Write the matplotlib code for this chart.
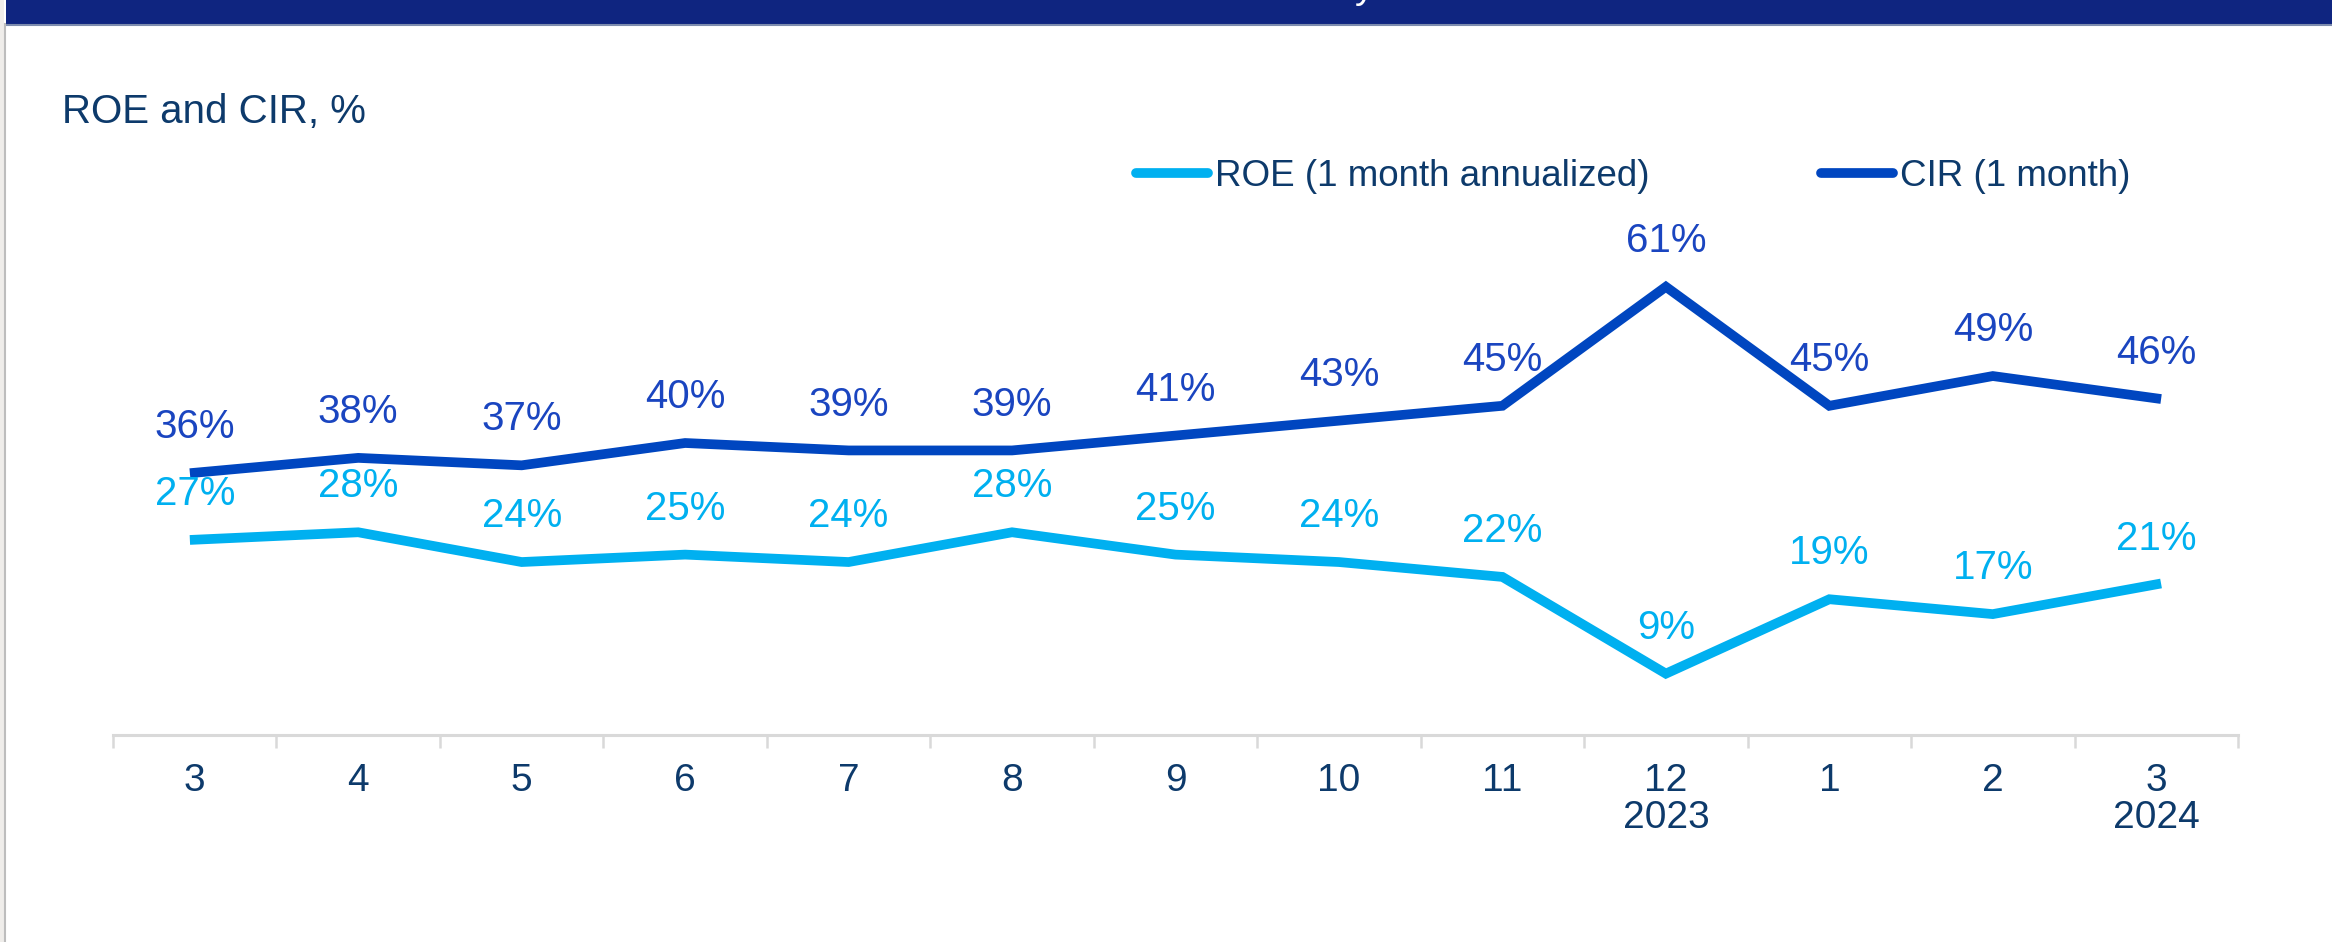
import numpy as np
import matplotlib
matplotlib.use("Agg")
import matplotlib.pyplot as plt
from matplotlib.lines import Line2D
from matplotlib.patches import Rectangle

plt.rcParams['font.family'] = ['Liberation Sans', 'DejaVu Sans']

# data
months = ['3', '4', '5', '6', '7', '8', '9', '10', '11', '12', '1', '2', '3']
years = ['', '', '', '', '', '', '', '', '', '2023', '', '', '2024']
roe = [27, 28, 24, 25, 24, 28, 25, 24, 22, 9, 19, 17, 21]
cir = [36, 38, 37, 40, 39, 39, 41, 43, 45, 61, 45, 49, 46]

roe_color = '#00B0F0'
cir_color = '#0046C0'
cir_label_color = '#1A45C0'
text_color = '#0D3A6B'
grey = '#D9D9D9'

W, H = 2332, 942
fig = plt.figure(figsize=(W / 100, H / 100), dpi=100)

# header band and left frame
fig.add_artist(Rectangle((6 / W, 1 - 24 / H), 1, 24 / H, transform=fig.transFigure,
                         facecolor='#0F2580', edgecolor='none'))
fig.add_artist(Line2D([6 / W, 1], [1 - 25 / H, 1 - 25 / H], transform=fig.transFigure,
                      color='#7D8CAE', lw=1.5))
fig.add_artist(Rectangle((0, 0), 4 / W, 1, transform=fig.transFigure,
                         facecolor='#EFEDEA', edgecolor='none'))
fig.add_artist(Line2D([5 / W, 5 / W], [0, 1 - 24 / H], transform=fig.transFigure,
                      color='#BDBDBD', lw=1.5))
fig.text(1365 / W, 1 + 2 / H, 'y', color='white', fontsize=28, ha='center', va='baseline')

# axes geometry: 7.44 px per percentage point, 0% sits ~6px below the axis line
ax_left, ax_right = 113, 2238
ax_bottom, ax_top = 735, 200
px_per_pt = 7.44
y0 = (740.6 - ax_bottom) / px_per_pt
ax = fig.add_axes([ax_left / W, 1 - ax_bottom / H, (ax_right - ax_left) / W, (ax_bottom - ax_top) / H])
ax.set_ylim(y0, y0 + (ax_bottom - ax_top) / px_per_pt)

x = np.arange(len(months))
ax.set_xlim(-0.5, len(months) - 0.5)

lw = 7
ax.plot(x, roe, color=roe_color, lw=lw, solid_joinstyle='miter', zorder=3)
ax.plot(x, cir, color=cir_color, lw=lw, solid_joinstyle='miter', zorder=3)

for xi, v in zip(x, roe):
    ax.annotate(f'{v}%', (xi, v), xytext=(0, 33), textcoords='offset points',
                ha='center', va='center', fontsize=29, color=roe_color)
for xi, v in zip(x, cir):
    ax.annotate(f'{v}%', (xi, v), xytext=(0, 33), textcoords='offset points',
                ha='center', va='center', fontsize=29, color=cir_label_color)

# axis styling
for s in ['top', 'right', 'left']:
    ax.spines[s].set_visible(False)
ax.spines['bottom'].set_color(grey)
ax.spines['bottom'].set_linewidth(2.2)
ax.set_yticks([])
ax.set_xticks(x)
ax.set_xticklabels([m + ('\n' + yr if yr else '\n') for m, yr in zip(months, years)],
                   fontsize=28, color=text_color, linespacing=1.05)
ax.tick_params(axis='x', which='major', length=0, pad=20)
ax.set_xticks(np.arange(-0.5, len(months)), minor=True)
ax.tick_params(axis='x', which='minor', length=9, width=1.8, color=grey, direction='out')

fig.text(62 / W, 1 - 112 / H, 'ROE and CIR, %', fontsize=29, color=text_color, va='center', ha='left')

handles = [Line2D([], [], color=roe_color, lw=lw, solid_capstyle='round'),
           Line2D([], [], color=cir_color, lw=lw, solid_capstyle='round')]
fig.legend(handles, ['ROE (1 month annualized)', 'CIR (1 month)'], loc='center left',
           bbox_to_anchor=(1136 / W, 1 - 176 / H), bbox_transform=fig.transFigure,
           ncol=2, frameon=False, fontsize=26.5, labelcolor=text_color,
           handlelength=1.95, handletextpad=0.2, columnspacing=4.65,
           borderpad=0, borderaxespad=0)

fig.savefig('out.png', dpi=100, facecolor='white')
